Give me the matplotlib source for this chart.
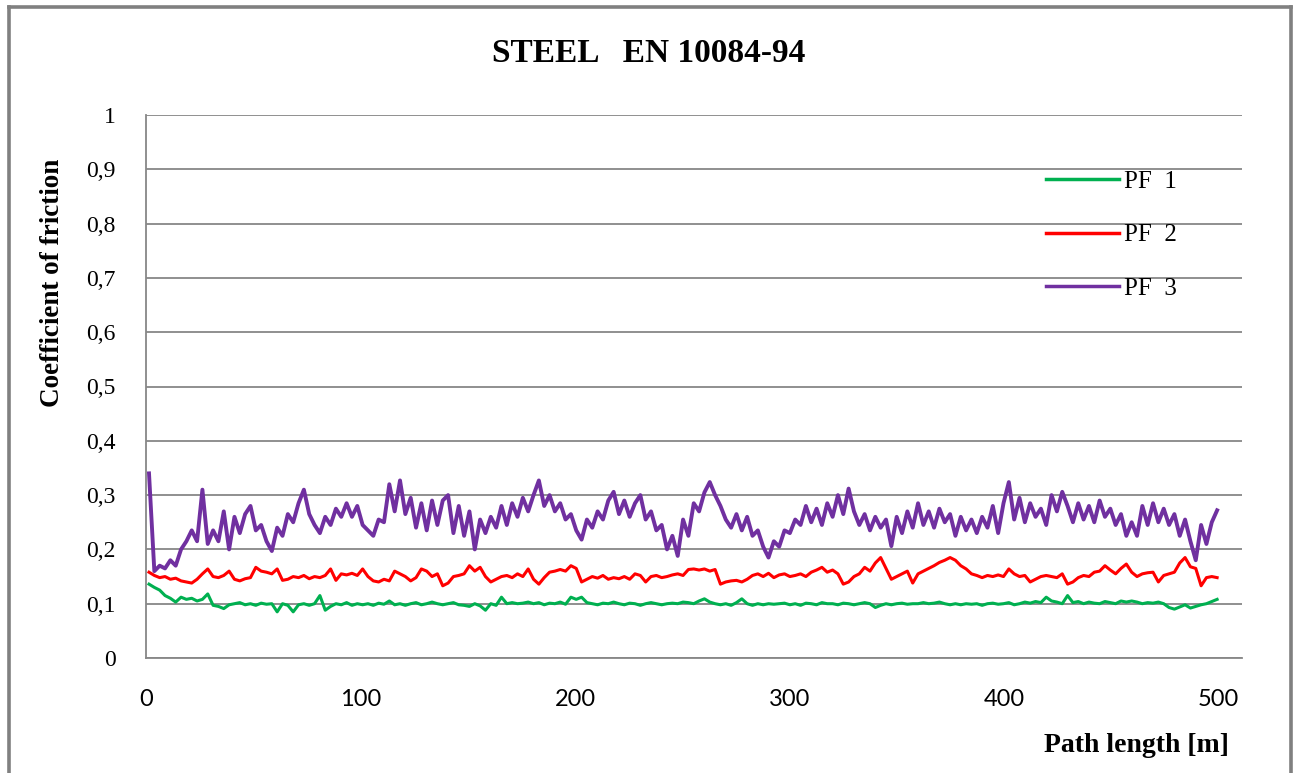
import numpy as np
import matplotlib
matplotlib.use("Agg")
import matplotlib.pyplot as plt
from matplotlib.lines import Line2D

# sampling of the path axis (m), one value every PATH_STEP metres
PATH_START = 1.4
PATH_STEP = 2.49

# coefficient of friction
pf1 = [
    0.136, 0.13, 0.125, 0.115, 0.11, 0.103, 0.112, 0.108,
    0.11, 0.105, 0.108, 0.118, 0.097, 0.095, 0.091, 0.098,
    0.1, 0.102, 0.098, 0.1, 0.097, 0.101, 0.099, 0.1,
    0.085, 0.1, 0.097, 0.085, 0.098, 0.1, 0.097, 0.1,
    0.115, 0.088, 0.095, 0.1, 0.098, 0.102, 0.097, 0.1,
    0.098, 0.1, 0.097, 0.101, 0.099, 0.105, 0.098, 0.1,
    0.097, 0.1, 0.102, 0.098, 0.1, 0.103, 0.1, 0.098,
    0.1, 0.102, 0.098, 0.097, 0.095, 0.1, 0.096, 0.088,
    0.1, 0.097, 0.112, 0.1, 0.102, 0.1, 0.101, 0.103,
    0.1, 0.102, 0.098, 0.101, 0.1, 0.103, 0.099, 0.112,
    0.108, 0.112, 0.102, 0.1, 0.098, 0.101, 0.1, 0.103,
    0.1, 0.098, 0.101, 0.1, 0.097, 0.1, 0.102, 0.1,
    0.098, 0.1, 0.101, 0.1, 0.103, 0.102, 0.1, 0.105,
    0.109, 0.103, 0.1, 0.098, 0.1, 0.097, 0.102, 0.109,
    0.1, 0.097, 0.1, 0.098, 0.1, 0.099, 0.1, 0.101,
    0.098, 0.1, 0.097, 0.101, 0.1, 0.098, 0.102, 0.1,
    0.1, 0.098, 0.101, 0.1, 0.098, 0.1, 0.102, 0.1,
    0.093, 0.097, 0.1, 0.098, 0.1, 0.101, 0.099, 0.1,
    0.1, 0.102, 0.1, 0.101, 0.103, 0.1, 0.098, 0.1,
    0.098, 0.1, 0.099, 0.1, 0.097, 0.1, 0.101, 0.099,
    0.1, 0.102, 0.098, 0.1, 0.103, 0.101, 0.104, 0.102,
    0.112, 0.105, 0.103, 0.1, 0.115, 0.102, 0.104, 0.1,
    0.103, 0.101, 0.1, 0.104, 0.102, 0.1, 0.105, 0.103,
    0.105, 0.103, 0.1, 0.102, 0.101, 0.103, 0.1, 0.093,
    0.09, 0.094, 0.098, 0.092, 0.095, 0.098, 0.1, 0.104,
    0.108,
]

pf2 = [
    0.158, 0.152, 0.148, 0.15, 0.145, 0.147, 0.142, 0.14,
    0.138, 0.145, 0.155, 0.164, 0.15, 0.148, 0.152, 0.16,
    0.145, 0.142, 0.146, 0.148, 0.167, 0.16, 0.158, 0.155,
    0.164, 0.143, 0.145, 0.15, 0.148, 0.152, 0.146, 0.15,
    0.148, 0.152, 0.164, 0.143, 0.155, 0.153, 0.156, 0.152,
    0.164, 0.15, 0.142, 0.14, 0.145, 0.142, 0.16, 0.155,
    0.15, 0.142, 0.148, 0.164, 0.16, 0.15, 0.155, 0.133,
    0.138, 0.15, 0.152, 0.155, 0.17, 0.16, 0.167, 0.15,
    0.14, 0.145, 0.15, 0.152, 0.148, 0.155, 0.15, 0.164,
    0.145, 0.136, 0.148, 0.158, 0.16, 0.163, 0.16, 0.17,
    0.165, 0.14, 0.145, 0.15, 0.147, 0.152, 0.145, 0.148,
    0.146, 0.15, 0.145, 0.155, 0.152, 0.14, 0.15, 0.152,
    0.148, 0.15, 0.153, 0.155, 0.152, 0.163, 0.164, 0.162,
    0.164, 0.16, 0.163, 0.136, 0.14, 0.142, 0.143, 0.14,
    0.145, 0.152, 0.155, 0.15, 0.156, 0.148, 0.153, 0.155,
    0.15, 0.152, 0.155, 0.15, 0.158, 0.162, 0.167, 0.158,
    0.162, 0.155, 0.136, 0.14, 0.15, 0.155, 0.167, 0.16,
    0.175, 0.185, 0.165, 0.145, 0.15, 0.155, 0.16, 0.138,
    0.155, 0.16, 0.165, 0.17, 0.176, 0.18, 0.185, 0.18,
    0.17, 0.164, 0.155, 0.152, 0.148, 0.152, 0.15, 0.153,
    0.15, 0.164, 0.155, 0.15, 0.152, 0.14, 0.145, 0.15,
    0.152, 0.15, 0.148, 0.155, 0.136, 0.14, 0.148, 0.152,
    0.15, 0.158, 0.16, 0.17, 0.162, 0.155, 0.165, 0.173,
    0.158, 0.15, 0.155, 0.157, 0.158, 0.14, 0.152, 0.155,
    0.158, 0.175, 0.185, 0.168, 0.165, 0.133, 0.148, 0.15,
    0.148,
]

pf3 = [
    0.34, 0.16, 0.17, 0.165, 0.18, 0.17, 0.2, 0.215,
    0.235, 0.215, 0.31, 0.21, 0.235, 0.215, 0.27, 0.2,
    0.26, 0.23, 0.265, 0.28, 0.235, 0.245, 0.215, 0.197,
    0.24, 0.225, 0.265, 0.25, 0.285, 0.31, 0.265, 0.245,
    0.23, 0.26, 0.245, 0.275, 0.26, 0.285, 0.26, 0.28,
    0.245, 0.235, 0.225, 0.255, 0.25, 0.32, 0.27, 0.327,
    0.265, 0.295, 0.24, 0.285, 0.235, 0.29, 0.245, 0.29,
    0.3, 0.23, 0.28, 0.225, 0.27, 0.2, 0.255, 0.23,
    0.26, 0.24, 0.28, 0.245, 0.285, 0.26, 0.295, 0.27,
    0.3, 0.327, 0.28, 0.3, 0.27, 0.285, 0.255, 0.265,
    0.235, 0.218, 0.255, 0.24, 0.27, 0.255, 0.29, 0.306,
    0.265, 0.29, 0.26, 0.285, 0.3, 0.255, 0.27, 0.235,
    0.245, 0.2, 0.225, 0.188, 0.255, 0.225, 0.285, 0.27,
    0.305, 0.324, 0.3, 0.28, 0.255, 0.24, 0.265, 0.235,
    0.26, 0.225, 0.235, 0.205, 0.185, 0.215, 0.205, 0.235,
    0.23, 0.255, 0.245, 0.28, 0.25, 0.275, 0.245, 0.285,
    0.26, 0.3, 0.265, 0.312, 0.27, 0.245, 0.265, 0.235,
    0.26, 0.24, 0.255, 0.206, 0.26, 0.23, 0.27, 0.24,
    0.285, 0.245, 0.27, 0.24, 0.275, 0.25, 0.265, 0.225,
    0.26, 0.235, 0.255, 0.23, 0.26, 0.24, 0.28, 0.23,
    0.285, 0.324, 0.255, 0.295, 0.25, 0.285, 0.26, 0.275,
    0.245, 0.3, 0.27, 0.306, 0.28, 0.25, 0.285, 0.255,
    0.28, 0.25, 0.29, 0.26, 0.275, 0.245, 0.265, 0.225,
    0.25, 0.225, 0.28, 0.245, 0.285, 0.25, 0.275, 0.245,
    0.265, 0.225, 0.255, 0.215, 0.18, 0.245, 0.21, 0.25,
    0.272,
]

series_names = ["PF  1", "PF  2", "PF  3"]
series_colors = ["#00B050", "#FF0000", "#7030A0"]
series_widths = [2.2, 2.2, 2.8]
y_ticks = [0, 0.1, 0.2, 0.3, 0.4, 0.5, 0.6, 0.7, 0.8, 0.9, 1.0]
x_ticks = [0, 100, 200, 300, 400, 500]

SERIF = ["Liberation Serif", "DejaVu Serif"]
SANS = ["Lato", "Liberation Sans", "DejaVu Sans"]
GRID = "#878787"

W, H = 1298, 773
fig = plt.figure(figsize=(W / 100, H / 100), dpi=100)
ax = fig.add_axes([146 / W, 1 - 658 / H, (1242 - 146) / W, (658 - 115) / H])

for vals, name, col, lw in zip([pf1, pf2, pf3], series_names, series_colors, series_widths):
    path_m = PATH_START + PATH_STEP * np.arange(len(vals))
    ax.plot(path_m, vals, color=col, lw=lw, label=name)

ax.set_xlim(0, 511)
ax.set_ylim(0, 1)
ax.set_yticks(y_ticks)
ax.set_yticklabels([f"{v:g}".replace(".", ",") for v in y_ticks],
                   fontfamily=SERIF, fontsize=17)
ax.set_xticks(x_ticks)
ax.set_xticklabels([str(v) for v in x_ticks], fontfamily=SANS, fontsize=17)
ax.tick_params(axis="both", length=0, colors="#000000")
ax.tick_params(axis="y", pad=22)
ax.tick_params(axis="x", pad=22)
ax.yaxis.grid(True, color=GRID, lw=1.3)
ax.set_axisbelow(True)
for s in ["top", "right"]:
    ax.spines[s].set_visible(False)
for s in ["left", "bottom"]:
    ax.spines[s].set_color(GRID)
    ax.spines[s].set_linewidth(1.3)

leg = ax.legend(loc="upper left", bbox_to_anchor=(1046 / W, 1 - 170 / H),
                bbox_transform=fig.transFigure, frameon=False,
                prop={"family": SERIF, "size": 18}, handlelength=2.9,
                handletextpad=0.2, labelspacing=1.25, borderpad=0, borderaxespad=0)
for h in leg.get_lines():
    h.set_linewidth(2.5)

fig.text(649 / W, 1 - 54 / H, "STEEL   EN 10084-94", ha="center", va="center",
         fontfamily=SERIF, fontsize=24, fontweight="bold")
fig.text(53 / W, 1 - 283 / H, "Coefficient of friction", ha="center", va="center",
         rotation=90, fontfamily=SERIF, fontsize=19.5, fontweight="bold")
fig.text(1136 / W, 1 - 745 / H, "Path length [m]", ha="center", va="center",
         fontfamily=SERIF, fontsize=20, fontweight="bold")

# outer chart border (bottom edge runs off the image)
bx0, bx1, by0 = 8.5 / W, 1291 / W, 1 - 7 / H
for xs, ys in [([bx0, bx0], [by0, -0.01]), ([bx0, bx1], [by0, by0]), ([bx1, bx1], [by0, -0.01])]:
    fig.add_artist(Line2D(xs, ys, color="#808080", lw=2.6, transform=fig.transFigure))

fig.savefig("out.png", dpi=100)
